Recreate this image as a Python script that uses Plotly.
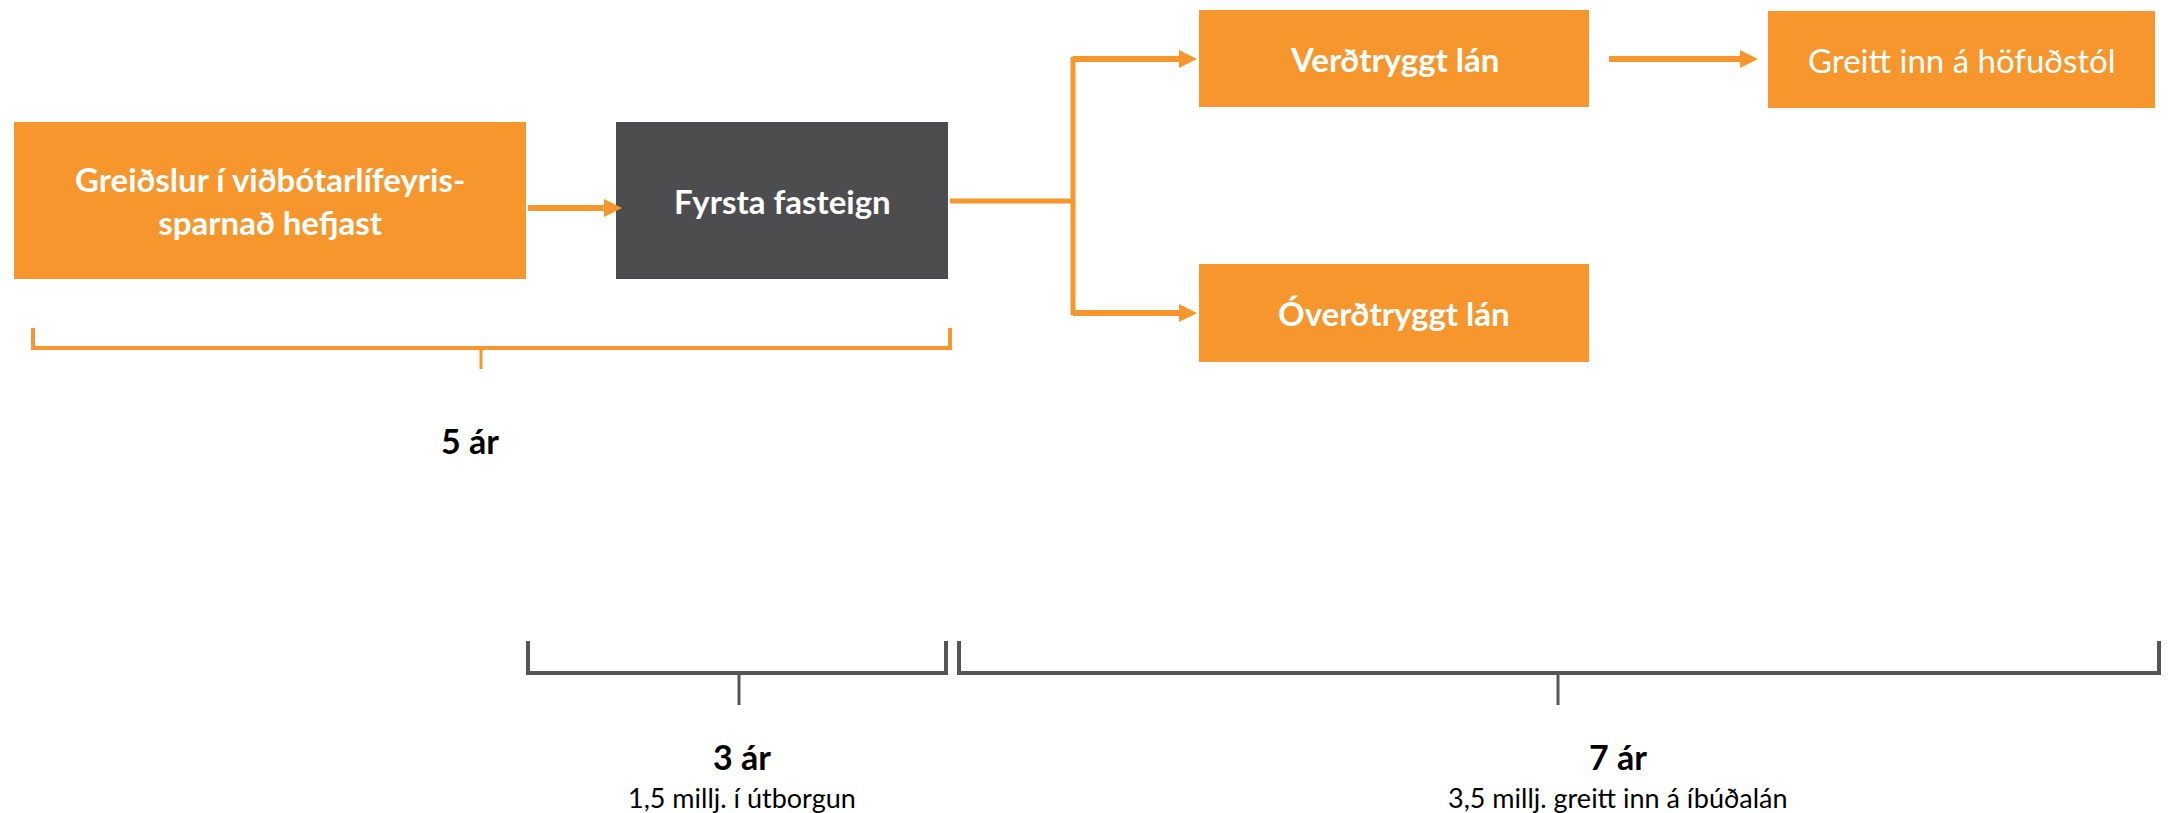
import plotly.graph_objects as go

# ---- content ----
box_labels = ["Greiðslur í viðbótarlífeyris-<br>sparnað hefjast", "Fyrsta fasteign",
              "Verðtryggt lán", "Greitt inn á höfuðstól", "Óverðtryggt lán"]
box_bold = [True, True, True, False, True]
box_fill = ["#F7962C", "#4D4D4F", "#F7962C", "#F7962C", "#F7962C"]
bracket_titles = ["5 ár", "3 ár", "7 ár"]
bracket_notes = ["", "1,5 millj. í útborgun", "3,5 millj. greitt inn á íbúðalán"]

# ---- geometry (pixels, y downward) ----
box_x0 = [14, 616, 1199, 1768, 1199]
box_x1 = [526, 948, 1589, 2155, 1589]
box_y0 = [122, 122, 10, 11, 264]
box_y1 = [279, 279, 107, 108, 362]

# arrows: (x_start, x_tip, y)
arrows = [(528, 622, 208), (1073, 1197, 59), (1073, 1197, 313), (1609, 1758, 59)]
# plain connector lines
connectors = [((950, 201), (1075, 201)), ((1073, 57), (1073, 315))]

# brackets: x0, x1, y_bar, y_top, tick_x, tick_bottom, colour
brackets = [
    (33, 950, 348, 328, 481, 369, "#F7962C"),
    (528, 946, 673, 641, 739, 705, "#555555"),
    (959, 2159, 673, 641, 1558, 705, "#555555"),
]
title_pos = [(470, 440), (742, 756), (1618, 756)]
note_pos = [None, (742, 797), (1618, 797)]

ORANGE = "#F7962C"
FONT = "Lato"

fig = go.Figure()
shapes = []
annotations = []

for lab, bold, fill, x0, x1, y0, y1 in zip(box_labels, box_bold, box_fill,
                                           box_x0, box_x1, box_y0, box_y1):
    shapes.append(dict(type="rect", x0=x0, x1=x1, y0=y0, y1=y1,
                       fillcolor=fill, line=dict(width=0), layer="below"))
    txt = f"<b>{lab}</b>" if bold else lab
    annotations.append(dict(x=(x0 + x1) / 2, y=(y0 + y1) / 2, text=txt,
                            showarrow=False, xanchor="center", yanchor="middle",
                            font=dict(family=FONT, size=33, color="white"),
                            align="center"))

for xs, xt, y in arrows:
    head = 18
    half = 9
    shapes.append(dict(type="line", x0=xs, x1=xt - head + 1, y0=y, y1=y,
                       line=dict(color=ORANGE, width=6)))
    shapes.append(dict(type="path",
                       path=f"M {xt - head} {y - half} L {xt} {y} L {xt - head} {y + half} Z",
                       fillcolor=ORANGE, line=dict(width=0)))

for (ax, ay), (bx, by) in connectors:
    shapes.append(dict(type="line", x0=ax, x1=bx, y0=ay, y1=by,
                       line=dict(color=ORANGE, width=5)))

for x0, x1, yb, yt, tx, tb, col in brackets:
    path = f"M {x0} {yt} L {x0} {yb} L {x1} {yb} L {x1} {yt}"
    shapes.append(dict(type="path", path=path, line=dict(color=col, width=4)))
    shapes.append(dict(type="line", x0=tx, x1=tx, y0=yb, y1=tb,
                       line=dict(color=col, width=3)))

for t, p in zip(bracket_titles, title_pos):
    annotations.append(dict(x=p[0], y=p[1], text=f"<b>{t}</b>", showarrow=False,
                            xanchor="center", yanchor="middle",
                            font=dict(family=FONT, size=34, color="black")))
for n, p in zip(bracket_notes, note_pos):
    if p is None:
        continue
    annotations.append(dict(x=p[0], y=p[1], text=n, showarrow=False,
                            xanchor="center", yanchor="middle",
                            font=dict(family=FONT, size=27, color="black")))

fig.update_layout(
    width=2170, height=813, autosize=False,
    margin=dict(l=0, r=0, t=0, b=0),
    paper_bgcolor="white", plot_bgcolor="white",
    xaxis=dict(range=[0, 2170], visible=False, fixedrange=True),
    yaxis=dict(range=[813, 0], visible=False, fixedrange=True),
    shapes=shapes, annotations=annotations, showlegend=False,
)

fig.write_html("out.html", config={"displayModeBar": False},
               post_script="document.body.style.margin='0';")
